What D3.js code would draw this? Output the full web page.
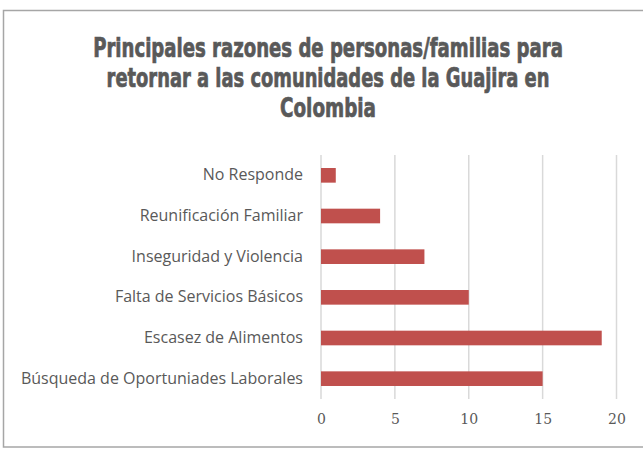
<!DOCTYPE html>
<html>
<head>
<meta charset="utf-8">
<script src="https://cdn.jsdelivr.net/npm/d3@7"></script>
<style>
  body { margin: 0; background: #fff; }
</style>
</head>
<body>
<svg id="chart" width="643" height="450"></svg>
<script>
// data, top to bottom as shown
let categories = ["No Responde", "Reunificación Familiar", "Inseguridad y Violencia",
                  "Falta de Servicios Básicos", "Escasez de Alimentos",
                  "Búsqueda de Oportuniades Laborales"];
let values = [1, 4, 7, 10, 19, 15];
let xTicks = [0, 5, 10, 15, 20];
let titleLines = ["Principales razones de personas/familias para",
                  "retornar a las comunidades de la Guajira en",
                  "Colombia"];
let titleWidths = [470, 443, 96];

var svg = d3.select("svg#chart");

// outer frame (right edge runs off the picture)
svg.append("rect")
    .attr("x", 3.5).attr("y", 10.5)
    .attr("width", 660).attr("height", 436.5)
    .attr("fill", "none")
    .attr("stroke", "#a6a6a6")
    .attr("stroke-width", 1.5);

// title - heavy face, squeezed horizontally to the original line widths
let titleCenter = 328;
svg.append("g")
    .selectAll("text")
    .data(titleLines)
    .enter().append("text")
    .attr("x", 0)
    .attr("y", 0)
    .attr("text-anchor", "middle")
    .attr("font-family", "'DejaVu Sans Condensed', 'DejaVu Sans', sans-serif")
    .attr("font-weight", "bold")
    .attr("font-size", "27px")
    .attr("fill", "#595959")
    .attr("stroke", "#595959")
    .attr("stroke-width", 0.7)
    .text(d => d)
    .attr("transform", function(d, i){
        let k = titleWidths[i] / this.getComputedTextLength();
        return "translate(" + titleCenter + "," + (57 + i * 30) + ") scale(" + k + ",1)";
    });

let x = d3.scaleLinear().domain([0, 20]).range([321, 616.5]);
let y = d3.scaleBand().domain(categories).range([155, 399]).paddingInner(0.64).paddingOuter(0.32);

// gridlines
svg.append("g")
    .selectAll("line")
    .data(xTicks)
    .enter().append("line")
    .attr("x1", d => x(d)).attr("x2", d => x(d))
    .attr("y1", 155).attr("y2", 399)
    .attr("stroke", "#d9d9d9")
    .attr("stroke-width", 1.5);

// bars
svg.append("g")
    .selectAll("rect")
    .data(values)
    .enter().append("rect")
    .attr("x", x(0))
    .attr("y", (d, i) => y(categories[i]))
    .attr("width", d => x(d) - x(0))
    .attr("height", y.bandwidth())
    .attr("fill", "#c0504d");

// x axis labels
let xAxis = d3.axisBottom(x).tickValues(xTicks).tickSize(0).tickPadding(0);
let gx = svg.append("g").attr("transform", "translate(0,414)").call(xAxis);
gx.select(".domain").remove();
gx.selectAll("text")
    .attr("font-family", "'DejaVu Serif', serif")
    .attr("font-size", "14px")
    .attr("fill", "#595959");

// y axis labels
let yAxis = d3.axisLeft(y).tickSize(0).tickPadding(18);
let gy = svg.append("g").attr("transform", "translate(321,0)").call(yAxis);
gy.select(".domain").remove();
gy.selectAll("text")
    .attr("font-family", "'Open Sans', sans-serif")
    .attr("font-size", "16px")
    .attr("fill", "#595959");
</script>
</body>
</html>
